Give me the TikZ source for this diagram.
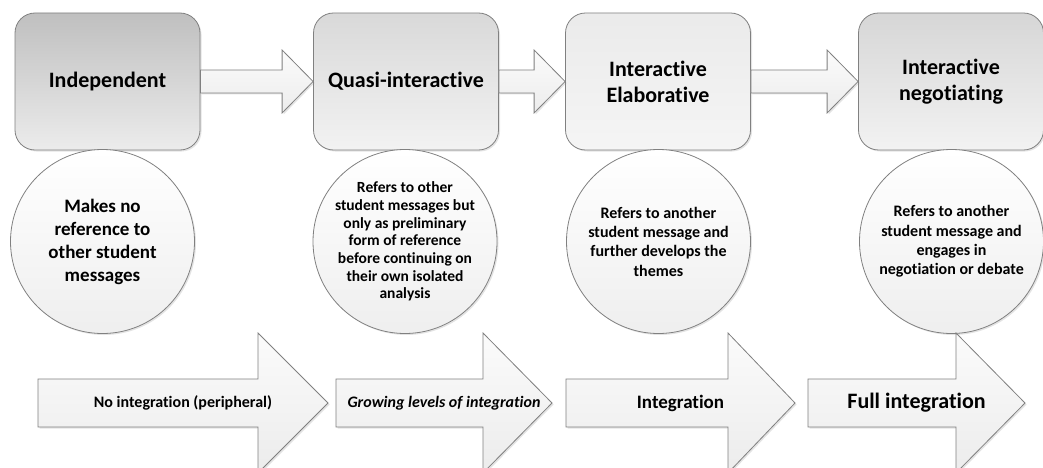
\documentclass[tikz,border=0pt]{standalone}
\usepackage{fontspec}
\setmainfont{Carlito}[RawFeature={-liga;-clig;-calt;-dlig;-rlig}]
\usetikzlibrary{calc}
\usetikzlibrary{shadows}
\tikzset{
    softshadow/.style={drop shadow={shadow xshift=1.5pt,shadow yshift=-1.5pt,opacity=0.22}},
    stagebox/.style={draw=gray, line width=0.8pt, rounded corners=20pt, minimum width=185pt, minimum height=137pt, align=center, font=\bfseries\fontsize{22}{26}\selectfont, softshadow},
    descr/.style={draw=gray, line width=0.8pt, circle, minimum size=184pt, inner sep=0pt, align=center, top color=white, bottom color=gray!13, softshadow},
    flowarrow/.style={draw=gray, line width=0.8pt, top color=gray!3, bottom color=gray!15, softshadow}
}

\begin{document}
\begin{tikzpicture}[x=1pt,y=-1pt]
\useasboundingbox (0,0) rectangle (1043,468);
\clip (0,0) rectangle (1043,468);
% stages
\foreach \x/\nm/\tc/\bc/\txt in {107.5/indep/gray!50/gray!15/{Independent}, 406/quasi/gray!30/gray!10/{Quasi-interactive}, 658/elab/gray!16/gray!8/{Interactive\\Elaborative}, 951/negot/gray!32/gray!10/{Interactive\\negotiating}}{
    \node[stagebox, top color=\tc, bottom color=\bc] (\nm) at (\x,81.5) {\txt};
}
% descriptions
\foreach \x/\nm/\fs/\ls/\txt in {102.5/dindep/19/23/{Makes no\\reference to\\other student\\messages}, 405/dquasi/15.5/17.7/{Refers to other\\student messages but\\only as preliminary\\form of reference\\before continuing on\\their own isolated\\analysis}, 658.5/delab/16/19.3/{Refers to another\\student message and\\further develops the\\themes}, 951.5/dnegot/16/19.3/{Refers to another\\student message and\\engages in\\negotiation or debate}}{
    \node[descr, font=\bfseries\fontsize{\fs}{\ls}\selectfont] (\nm) at (\x,241.5) {\txt};
}
% links between stages
\foreach \a/\b in {indep/quasi, quasi/elab, elab/negot}{
    \draw[flowarrow] let \p1=(\a.east), \p2=(\b.west) in
        (\x1,\y1+11.5pt) -- (\x2-31pt,\y1+11.5pt) -- (\x2-31pt,\y1+31.5pt) -- (\x2,\y1)
        -- (\x2-31pt,\y1-31.5pt) -- (\x2-31pt,\y1-11.5pt) -- (\x1,\y1-11.5pt) -- cycle;
}
% levels of integration
\foreach \xa/\xb/\xc/\nm/\fs/\txt in {38/258/328/lnone/16/{No integration (peripheral)}, 336/483/552/lgrow/16/{\textit{Growing levels of integration}}, 566/728/795/lint/19/{Integration}, 808/956/1025/lfull/22/{Full integration}}{
    \draw[flowarrow] (\xa,379) -- (\xb,379) -- (\xb,333) -- (\xc,403) -- (\xb,473) -- (\xb,427) -- (\xa,427) -- cycle;
    \node[font=\bfseries\fontsize{\fs}{\fs}\selectfont] (\nm) at ({(\xa+\xc)/2},403) {\txt};
}
\end{tikzpicture}
\end{document}
